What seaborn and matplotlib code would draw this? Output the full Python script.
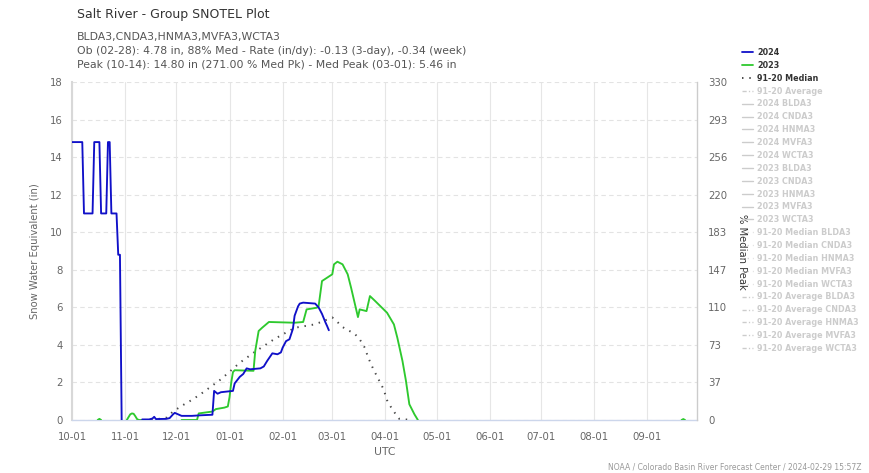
import pandas as pd
import matplotlib
matplotlib.use("Agg")
import matplotlib.pyplot as plt
import matplotlib.dates as mdates
from matplotlib.lines import Line2D
from matplotlib.font_manager import FontProperties
import seaborn as sns

# ---------------------------------------------------------------- data
# Group-average snow water equivalent (in). Dates are month-day within the
# water year (Oct-Sep); a None value marks a break in the record.
swe_2024_dates = ["10-01", "10-07", "10-08", "10-13", "10-14", "10-17", "10-18",
                  "10-21", "10-22", "10-23", "10-24", "10-27", "10-28", "10-29",
                  "10-30", "11-05",
                  "11-11", "11-15", "11-17", "11-18", "11-19", "11-25", "11-27",
                  "11-29", "11-30", "12-02", "12-04", "12-10", "12-15", "12-22",
                  "12-23", "12-25", "12-27", "01-03", "01-04", "01-07", "01-09",
                  "01-11", "01-13", "01-19", "01-21", "01-23", "01-26", "01-29",
                  "01-31", "02-01", "02-03", "02-05", "02-07", "02-08", "02-10",
                  "02-11", "02-13", "02-20", "02-22", "02-24", "02-26", "02-27",
                  "02-28"]
swe_2024 = [14.8, 14.8, 11.0, 11.0, 14.8, 14.8, 11.0,
            11.0, 14.8, 14.8, 11.0, 11.0, 8.8, 8.8,
            0.0, None,
            0.03, 0.03, 0.08, 0.17, 0.05, 0.06, 0.10,
            0.30, 0.38, 0.30, 0.22, 0.22, 0.25, 0.28,
            1.55, 1.40, 1.48, 1.55, 1.95, 2.30, 2.45,
            2.75, 2.70, 2.75, 2.85, 3.15, 3.55, 3.50,
            3.60, 3.85, 4.20, 4.30, 4.85, 5.55, 6.05,
            6.20, 6.25, 6.20, 6.00, 5.65, 5.20, 5.00,
            4.78]

swe_2023_dates = ["10-16", "10-17", "10-18", "10-25",
                  "11-02", "11-03", "11-04", "11-05", "11-06", "11-07", "11-08",
                  "11-09", "11-12", "11-20",
                  "12-04", "12-13", "12-14", "12-22", "12-24", "12-29", "12-31",
                  "01-01", "01-02", "01-03", "01-04", "01-15", "01-16", "01-18",
                  "01-20", "01-24", "02-08", "02-13", "02-15", "02-21", "02-22",
                  "02-24", "02-27", "03-01", "03-02", "03-04", "03-07", "03-10",
                  "03-12", "03-16", "03-17", "03-21", "03-23", "03-26", "03-29",
                  "04-02", "04-06", "04-08", "04-11", "04-13", "04-15", "04-18",
                  "04-20", "06-01",
                  "09-21", "09-22", "09-23"]
swe_2023 = [0.0, 0.06, 0.0, None,
            0.0, 0.15, 0.30, 0.35, 0.33, 0.20, 0.05,
            0.0, 0.0, None,
            0.0, 0.0, 0.35, 0.45, 0.58, 0.66, 0.72,
            1.22, 2.00, 2.55, 2.65, 2.62, 3.67, 4.74,
            4.91, 5.22, 5.18, 5.22, 5.89, 5.98, 6.05,
            7.40, 7.58, 7.76, 8.29, 8.43, 8.29, 7.76,
            7.04, 5.48, 5.89, 5.80, 6.60, 6.34, 6.07,
            5.71, 5.09, 4.38, 3.14, 2.10, 0.84, 0.30,
            0.0, None,
            0.0, 0.05, 0.0]

median_dates = ["11-12", "11-20", "11-25", "11-29", "12-04", "12-10", "12-15",
                "12-27", "01-07", "01-15", "01-27", "02-08", "02-19", "02-23",
                "03-01", "03-04", "03-07", "03-10", "03-14", "03-17", "03-20",
                "03-22", "03-25", "03-28", "03-31", "04-02", "04-05", "04-09",
                "04-13", "04-15"]
median_swe = [0.0, 0.05, 0.12, 0.45, 0.75, 1.07, 1.37,
              2.17, 3.05, 3.58, 4.30, 4.91, 5.08, 5.20,
              5.46, 5.22, 4.95, 4.79, 4.60, 4.30, 3.85,
              3.32, 2.70, 2.17, 1.63, 1.05, 0.57, 0.07,
              0.03, 0.0]

median_peak = 5.46          # in, 1991-2020 median peak (03-01)
y_ticks = [0, 2, 4, 6, 8, 10, 12, 14, 16, 18]
month_ticks = ["10-01", "11-01", "12-01", "01-01", "02-01", "03-01",
               "04-01", "05-01", "06-01", "07-01", "08-01", "09-01"]
stations = ["BLDA3", "CNDA3", "HNMA3", "MVFA3", "WCTA3"]

title = "Salt River - Group SNOTEL Plot"
subtitle = ["BLDA3,CNDA3,HNMA3,MVFA3,WCTA3",
            "Ob (02-28): 4.78 in, 88% Med - Rate (in/dy): -0.13 (3-day), -0.34 (week)",
            "Peak (10-14): 14.80 in (271.00 % Med Pk) - Med Peak (03-01): 5.46 in"]
footer = "NOAA / Colorado Basin River Forecast Center / 2024-02-29 15:57Z"


def wy_date(md):
    m, d = (int(p) for p in md.split("-"))
    return pd.Timestamp(2023 if m >= 10 else 2024, m, d)


def segmented(dates, values):
    """Long table with a segment id that increments at every break."""
    rows, seg = [], 0
    for md, v in zip(dates, values):
        if v is None:
            seg += 1
            continue
        rows.append({"date": wy_date(md), "swe": v, "seg": seg})
    return pd.DataFrame(rows)


df24 = segmented(swe_2024_dates, swe_2024)
df23 = segmented(swe_2023_dates, swe_2023)
dfmed = segmented(median_dates, median_swe)

# ---------------------------------------------------------------- style
sns.set_theme(style="white")
plt.rcParams["font.family"] = ["DejaVu Sans"]

BLUE = "#1010c8"
GREEN = "#2ec92e"
MED = "#4a4a4a"
HIDDEN = "#cccccc"
TICK = "#666666"
DOT = (0, (0.75, 3.0))
DASHDOT = (0, (3.0, 1.6, 0.9, 1.6))

W, H = 869, 473
fig = plt.figure(figsize=(W / 100, H / 100), dpi=100)
L, R, T, B = 72, 697, 82, 420
ax = fig.add_axes([L / W, 1 - B / H, (R - L) / W, (B - T) / H])

sns.lineplot(data=dfmed, x="date", y="swe", units="seg", estimator=None,
             color=MED, lw=1.4, linestyle=DOT, ax=ax, legend=False, zorder=4)
sns.lineplot(data=df23, x="date", y="swe", units="seg", estimator=None,
             color=GREEN, lw=1.35, ax=ax, legend=False, zorder=5)
sns.lineplot(data=df24, x="date", y="swe", units="seg", estimator=None,
             color=BLUE, lw=1.35, ax=ax, legend=False, zorder=6)

ax.set_xlim(wy_date("10-01"), pd.Timestamp(2024, 9, 30))
ax.set_ylim(0, 18)
ax.set_yticks(y_ticks)
ax.set_xticks([wy_date(m) for m in month_ticks])
ax.xaxis.set_major_formatter(mdates.DateFormatter("%m-%d"))
ax.set_xlabel("")
ax.set_ylabel("")

ax.yaxis.grid(True, color="#e3e3e3", lw=0.8, ls=(0, (4, 3)))
ax.xaxis.grid(True, color="#e6e6e6", lw=0.8, ls="-")
ax.set_axisbelow(True)
for side in ("top", "right"):
    ax.spines[side].set_visible(False)
ax.spines["left"].set_color("#d8d8d8")
ax.spines["left"].set_linewidth(1.5)
ax.spines["bottom"].set_color("#ccd6eb")
ax.spines["bottom"].set_linewidth(1.0)
ax.spines["bottom"].set_zorder(3)
ax.tick_params(axis="both", length=0, labelsize=7.3, colors=TICK)
ax.tick_params(axis="x", pad=8.5)
ax.tick_params(axis="y", pad=6.5)

# right-hand scale: percent of the median peak
ax2 = ax.twinx()
ax2.set_ylim(0, 18 / median_peak * 100)
pct_ticks = [v / median_peak * 100 for v in y_ticks]
ax2.set_yticks(pct_ticks)
ax2.set_yticklabels([f"{round(p):d}" for p in pct_ticks])
ax2.grid(False)
for side in ("top", "left", "bottom"):
    ax2.spines[side].set_visible(False)
ax2.spines["right"].set_color("#cccccc")
ax2.spines["right"].set_linewidth(1.0)
ax2.tick_params(axis="y", length=0, labelsize=7.3, colors=TICK, pad=8)

# titles and axis labels
fig.text(77 / W, 1 - 18 / H, title, fontsize=9.0, color="#333333", va="baseline")
for i, line in enumerate(subtitle):
    fig.text(77 / W, 1 - (40 + 13.5 * i) / H, line, fontsize=7.8,
             color="#555555", va="baseline")
fig.text(35 / W, 1 - 251 / H, "Snow Water Equivalent (in)", rotation=90,
         fontsize=7.2, color=TICK, ha="center", va="center")
fig.text(742 / W, 1 - 252 / H, "% Median Peak", rotation=270,
         fontsize=7.2, color="#333333", ha="center", va="center")
fig.text((L + R) / 2 / W, 1 - 452 / H, "UTC", fontsize=7.8, color=TICK,
         ha="center", va="center")
fig.text(862 / W, 1 - 469 / H, footer, fontsize=5.5, color="#999999",
         ha="right", va="baseline")

# legend: three shown series, the rest listed as hidden
handles = [Line2D([], [], color=BLUE, lw=1.3),
           Line2D([], [], color=GREEN, lw=1.3),
           Line2D([], [], color=MED, lw=1.4, ls=DOT),
           Line2D([], [], color=HIDDEN, lw=1.0, ls=DASHDOT)]
labels = ["2024", "2023", "91-20 Median", "91-20 Average"]
colors = ["#333333", "#333333", "#333333", HIDDEN]
for prefix, ls in (("2024", "-"), ("2023", "-"),
                   ("91-20 Median", DOT), ("91-20 Average", DASHDOT)):
    for st in stations:
        handles.append(Line2D([], [], color=HIDDEN, lw=1.0, ls=ls))
        labels.append(f"{prefix} {st}")
        colors.append(HIDDEN)

leg = fig.legend(handles, labels, loc="upper left",
                 bbox_to_anchor=(741.5 / W, 1 - 48 / H),
                 frameon=False, prop=FontProperties(size=5.8, weight="bold"),
                 handlelength=1.45, handletextpad=0.46, labelspacing=0.48,
                 borderpad=0, borderaxespad=0)
for txt, c in zip(leg.get_texts(), colors):
    txt.set_color(c)

fig.savefig("out.png", dpi=100)
